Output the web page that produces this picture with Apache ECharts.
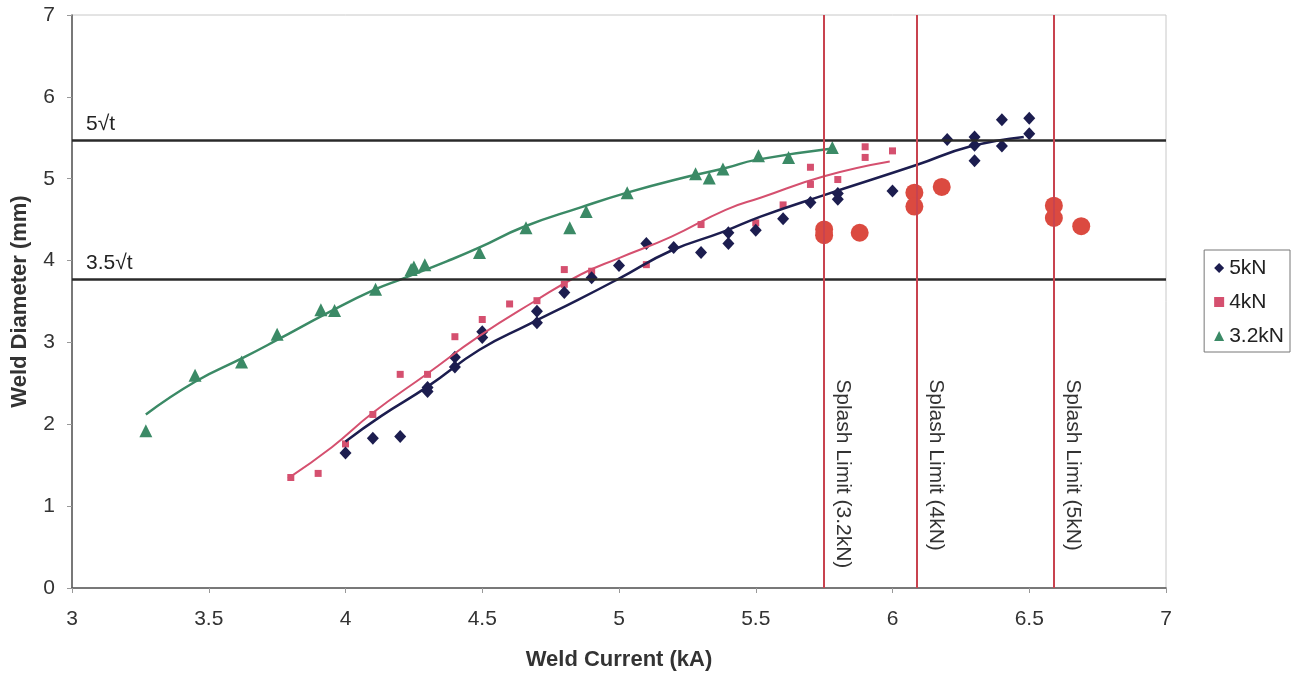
<!DOCTYPE html>
<html><head><meta charset="utf-8">
<script src="https://cdn.jsdelivr.net/npm/echarts@6/dist/echarts.min.js"></script>
<style>html,body{margin:0;padding:0;background:#fff}#c{width:1294px;height:676px}</style>
</head><body><div id="c"></div>
<script>
const xTicks = {min: 3, max: 7, interval: 0.5};
const yTicks = {min: 0, max: 7, interval: 1};

const kN5 = [[4.0,1.65],[4.1,1.83],[4.2,1.85],[4.3,2.45],[4.3,2.40],[4.4,2.82],[4.4,2.70],[4.5,3.13],[4.5,3.06],[4.7,3.38],[4.7,3.24],[4.8,3.61],[4.9,3.79],[5.0,3.94],[5.1,4.21],[5.2,4.16],[5.3,4.10],[5.4,4.34],[5.4,4.21],[5.5,4.37],[5.6,4.51],[5.7,4.71],[5.8,4.82],[5.8,4.75],[6.0,4.85],[6.2,5.48],[6.3,5.51],[6.3,5.41],[6.3,5.22],[6.4,5.72],[6.4,5.40],[6.5,5.74],[6.5,5.55]];
const kN4 = [[3.8,1.35],[3.9,1.40],[4.0,1.76],[4.1,2.12],[4.2,2.61],[4.3,2.61],[4.4,3.07],[4.5,3.28],[4.6,3.47],[4.7,3.51],[4.8,3.89],[4.8,3.71],[4.9,3.87],[5.1,3.95],[5.3,4.44],[5.5,4.46],[5.6,4.68],[5.7,4.93],[5.7,5.14],[5.8,4.99],[5.9,5.39],[5.9,5.26],[6.0,5.34]];
const kN32 = [[3.27,1.92],[3.45,2.60],[3.62,2.76],[3.75,3.10],[3.91,3.40],[3.96,3.39],[4.11,3.65],[4.24,3.89],[4.25,3.92],[4.29,3.95],[4.49,4.10],[4.66,4.40],[4.82,4.40],[4.88,4.60],[5.03,4.83],[5.28,5.06],[5.33,5.01],[5.38,5.12],[5.51,5.28],[5.62,5.26],[5.78,5.38]];

const fit5 = [[4.0,1.79],[4.13,2.10],[4.3,2.46],[4.49,2.91],[4.67,3.22],[4.85,3.52],[5.0,3.78],[5.19,4.12],[5.38,4.35],[5.52,4.54],[5.75,4.80],[6.09,5.17],[6.28,5.39],[6.48,5.51]];
const fit4 = [[3.79,1.34],[3.95,1.72],[4.1,2.14],[4.3,2.62],[4.49,3.08],[4.69,3.5],[4.86,3.83],[5.0,4.03],[5.19,4.29],[5.39,4.62],[5.52,4.77],[5.75,5.03],[5.99,5.21]];
const fit32 = [[3.27,2.12],[3.45,2.52],[3.63,2.82],[3.75,3.03],[3.94,3.37],[4.11,3.65],[4.21,3.78],[4.37,3.99],[4.49,4.16],[4.65,4.41],[4.86,4.65],[5.03,4.83],[5.22,5.0],[5.39,5.13],[5.5,5.23],[5.78,5.37]];

const splashPts = [[5.75,4.38],[5.75,4.31],[5.88,4.34],[6.08,4.83],[6.08,4.66],[6.18,4.90],[6.59,4.67],[6.59,4.52],[6.69,4.42]];

const splashLimits = [5.75, 6.09, 6.59];
const splashLabels = ['Splash Limit (3.2kN)', 'Splash Limit (4kN)', 'Splash Limit (5kN)'];
const splashLabelY = 2.55;
const hLimits = [5.47, 3.77];
const hLabels = ['5√t', '3.5√t'];

const FONT = 'Liberation Sans, Arial, sans-serif';
const C5 = '#1c1d4f', C4 = '#d5506f', C32 = '#3b8a66', CRED = '#c8434f', CDOT = '#db4a40';
const FS = 21;

const chart = echarts.init(document.getElementById('c'));
chart.setOption({
  animation: false,
  textStyle: {fontFamily: FONT},
  grid: {left: 72, right: 128, top: 15, bottom: 87, show: true, borderColor: '#c8c8c8', borderWidth: 1},
  legend: {
    orient: 'vertical', right: 4, top: 250,
    data: [{name:'5kN', icon:'diamond'}, {name:'4kN', icon:'rect'}, {name:'3.2kN', icon:'triangle'}],
    itemWidth: 10, itemHeight: 10, itemGap: 10,
    borderColor: '#777', borderWidth: 1, padding: [6, 6, 4, 10], borderRadius: 0,
    textStyle: {fontSize: FS, lineHeight: 24, color: '#222', fontFamily: FONT}
  },
  xAxis: {
    type: 'value', min: xTicks.min, max: xTicks.max, interval: xTicks.interval,
    name: 'Weld Current (kA)', nameLocation: 'middle', nameGap: 61,
    nameTextStyle: {fontSize: 22, fontWeight: 'bold', color: '#333'},
    axisLine: {lineStyle: {color: '#555', width: 1.5}},
    axisTick: {show: true, length: 5, lineStyle: {color: '#999'}},
    axisLabel: {fontSize: FS, color: '#333', margin: 21},
    splitLine: {show: false}
  },
  yAxis: {
    type: 'value', min: yTicks.min, max: yTicks.max, interval: yTicks.interval,
    name: 'Weld Diameter (mm)', nameLocation: 'middle', nameGap: 41,
    nameTextStyle: {fontSize: 22, fontWeight: 'bold', color: '#333'},
    axisLine: {show: true, lineStyle: {color: '#555', width: 1.5}},
    axisTick: {show: true, length: 5, lineStyle: {color: '#999'}},
    axisLabel: {fontSize: FS, color: '#333', margin: 17},
    splitLine: {show: false}
  },
  series: [
    {name: 'limits', type: 'line', data: [], silent: true,
     markLine: {symbol: 'none', silent: true,
       data: hLimits.map((v, i) => ({yAxis: v, label: {formatter: hLabels[i]}, lineStyle: {color: '#2a2a2a', width: 2.5, type: 'solid'}}))
         .concat(splashLimits.map(v => ({xAxis: v, label: {show: false}, lineStyle: {color: CRED, width: 2, type: 'solid'}}))),
       label: {position: 'insideStartTop', fontSize: FS, color: '#222', distance: [14, 6], fontFamily: FONT}
     }},
    {name: 'splashText', type: 'custom', silent: true,
     data: splashLimits.map(v => [v, splashLabelY]),
     renderItem: function (params, api) {
       const p = api.coord([api.value(0), api.value(1)]);
       return {type: 'text', x: p[0] + 19, y: p[1], rotation: -Math.PI / 2,
         style: {text: splashLabels[params.dataIndex], fontSize: FS, fontFamily: FONT, fill: '#333', align: 'left', verticalAlign: 'middle'}};
     }},
    {name: 'fit32', type: 'line', data: fit32, smooth: true, showSymbol: false, lineStyle: {color: C32, width: 2.5}, silent: true},
    {name: 'fit4', type: 'line', data: fit4, smooth: true, showSymbol: false, lineStyle: {color: C4, width: 2}, silent: true},
    {name: 'fit5', type: 'line', data: fit5, smooth: true, showSymbol: false, lineStyle: {color: C5, width: 2.5}, silent: true},
    {name: 'splash', type: 'scatter', data: splashPts, symbol: 'circle', symbolSize: 18, itemStyle: {color: CDOT, opacity: 1}},
    {name: '3.2kN', type: 'scatter', data: kN32, symbol: 'triangle', symbolSize: 13, itemStyle: {color: C32, opacity: 1}},
    {name: '4kN', type: 'scatter', data: kN4, symbol: 'rect', symbolSize: 7, itemStyle: {color: C4, opacity: 1}},
    {name: '5kN', type: 'scatter', data: kN5, symbol: 'diamond', symbolSize: [12, 13], itemStyle: {color: C5, opacity: 1}}
  ]
});
</script></body></html>
